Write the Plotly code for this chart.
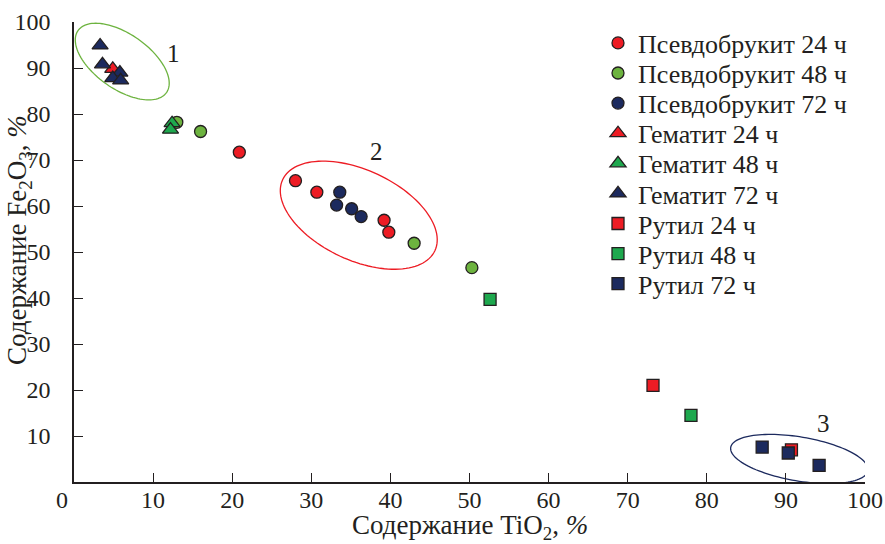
import numpy as np
import plotly.graph_objects as go

# TiO2 (x) and Fe2O3 (y) content, %, for each phase / synthesis time
pb24_x = [20.9, 28.0, 30.7, 39.2, 39.8]
pb24_y = [71.7, 65.5, 63.0, 56.9, 54.3]
pb48_x = [13.0, 16.0, 43.0, 50.3]
pb48_y = [78.2, 76.2, 51.9, 46.6]
pb72_x = [33.6, 33.2, 35.1, 36.3]
pb72_y = [63.0, 60.2, 59.4, 57.7]

hem24_x = [4.9]
hem24_y = [89.8]
hem48_x = [12.4, 12.2]
hem48_y = [78.0, 76.6]
hem72_x = [3.3, 3.6, 5.8, 4.9, 5.9]
hem72_y = [94.9, 90.8, 89.0, 87.8, 87.3]

rut24_x = [73.2, 90.7]
rut24_y = [21.0, 7.0]
rut48_x = [52.6, 78.0]
rut48_y = [39.7, 14.5]
rut72_x = [87.0, 90.3, 94.2]
rut72_y = [7.6, 6.3, 3.6]

series_names = ["Псевдобрукит 24 ч", "Псевдобрукит 48 ч", "Псевдобрукит 72 ч",
                "Гематит 24 ч", "Гематит 48 ч", "Гематит 72 ч",
                "Рутил 24 ч", "Рутил 48 ч", "Рутил 72 ч"]

x_ticks = [0, 10, 20, 30, 40, 50, 60, 70, 80, 90, 100]
x_tick_text = ["0\u2002\u2002"] + [str(v) for v in x_ticks[1:]]  # "0" nudged off the corner
y_ticks = [10, 20, 30, 40, 50, 60, 70, 80, 90, 100]

RED = "#ED1C24"
LGREEN = "#6DB33F"
GREEN = "#1EA84E"
NAVY = "#1C2A5E"
EDGE = "#231F20"
INK = "#231F20"
FONT = "Liberation Serif, Times New Roman, serif"

W, H = 885, 544
ML, MR, MT, MB = 74, 20, 22, 62
PW, PH = W - ML - MR, H - MT - MB
sx = PW / 100.0   # px per % along x
sy = PH / 100.0   # px per % along y

fig = go.Figure()

series = [
    (pb24_x, pb24_y, "circle", RED, 12),
    (pb48_x, pb48_y, "circle", LGREEN, 12),
    (pb72_x, pb72_y, "circle", NAVY, 12),
    (hem24_x, hem24_y, "triangle-up", RED, 14),
    (hem48_x, hem48_y, "triangle-up", GREEN, 14),
    (hem72_x, hem72_y, "triangle-up", NAVY, 14),
    (rut24_x, rut24_y, "square", RED, 12),
    (rut48_x, rut48_y, "square", GREEN, 12),
    (rut72_x, rut72_y, "square", NAVY, 12),
]

# one legend box per row so the row pitch can be set exactly
LEG_TOP_PX, LEG_PITCH_PX = 43, 30.1
legend_layout = {}
for i, (name, (xs, ys, sym, col, size)) in enumerate(zip(series_names, series)):
    key = "legend" if i == 0 else f"legend{i + 1}"
    fig.add_trace(go.Scatter(
        x=xs, y=ys, mode="markers", name=name, legend=key,
        marker=dict(symbol=sym, color=col, size=size,
                    line=dict(color=EDGE, width=1.3)),
    ))
    row_px = LEG_TOP_PX + i * LEG_PITCH_PX
    legend_layout[key] = dict(
        x=(598 - ML) / PW, y=(MT + PH - row_px) / PH,
        xanchor="left", yanchor="middle",
        bgcolor="rgba(0,0,0,0)", borderwidth=0,
        font=dict(family=FONT, size=26, color=INK),
        itemwidth=30,
    )


def ellipse_path(cx, cy, a_px, b_px, angle_deg, n=120):
    """Closed SVG path of a tilted ellipse; axes given in screen pixels."""
    t = np.linspace(0, 2 * np.pi, n, endpoint=False)
    th = np.deg2rad(angle_deg)
    dx = a_px * np.cos(t) * np.cos(th) - b_px * np.sin(t) * np.sin(th)
    dy = a_px * np.cos(t) * np.sin(th) + b_px * np.sin(t) * np.cos(th)
    xs = cx + dx / sx
    ys = cy - dy / sy
    pts = [f"{x:.3f},{y:.3f}" for x, y in zip(xs, ys)]
    return "M" + " L".join(pts) + " Z"


# group outlines: centre (data), semi-axes (px), tilt (deg, clockwise)
groups = [
    (6.1, 91.4, 54, 27.5, 35, LGREEN),
    (36.0, 58.0, 84, 45, 25, RED),
    (91.7, 5.0, 69.6, 22, 9.6, NAVY),
]
for cx, cy, a, b, ang, col in groups:
    fig.add_shape(type="path", xref="x", yref="y",
                  path=ellipse_path(cx, cy, a, b, ang),
                  line=dict(color=col, width=1.3), layer="below")

group_labels = [("1", 12.6, 93.2), ("2", 38.3, 71.8), ("3", 94.8, 12.8)]
for txt, lx, ly in group_labels:
    fig.add_annotation(x=lx, y=ly, text=txt, showarrow=False,
                       font=dict(family=FONT, size=25, color=INK))

# axis titles
fig.add_annotation(xref="paper", yref="paper",
                   x=(470 - ML) / PW, y=(MT + PH - 527) / PH,
                   xanchor="center", yanchor="middle",
                   text="Содержание TiO<sub>2</sub>, <i>%</i>", showarrow=False,
                   font=dict(family=FONT, size=27, color=INK))
fig.add_annotation(xref="paper", yref="paper",
                   x=(19 - ML) / PW, y=(MT + PH - 240) / PH,
                   xanchor="center", yanchor="middle",
                   text="Содержание Fe<sub>2</sub>O<sub>3</sub>, <i>%</i>",
                   textangle=-90, showarrow=False,
                   font=dict(family=FONT, size=27, color=INK))

fig.update_layout(
    width=W, height=H,
    margin=dict(l=ML, r=MR, t=MT, b=MB, autoexpand=False),
    paper_bgcolor="white", plot_bgcolor="white",
    font=dict(family=FONT, size=24, color=INK),
    showlegend=True,
    **legend_layout,
)
fig.update_xaxes(
    range=[0, 100], tickvals=x_ticks, ticktext=x_tick_text,
    ticks="inside", ticklen=9, tickwidth=1.3, tickcolor=INK,
    showline=True, linecolor=INK, linewidth=1.5,
    showgrid=False, zeroline=False, mirror=False, automargin=False,
    ticklabelstandoff=-5,
    tickfont=dict(family=FONT, size=24, color=INK),
)
fig.update_yaxes(
    range=[0, 100], tickvals=y_ticks, ticktext=[str(v) for v in y_ticks],
    ticks="inside", ticklen=9, tickwidth=1.3, tickcolor=INK,
    showline=True, linecolor=INK, linewidth=1.5,
    showgrid=False, zeroline=False, mirror=False, automargin=False,
    ticklabelstandoff=17,
    tickfont=dict(family=FONT, size=24, color=INK),
)

fig.write_html("out.html")
